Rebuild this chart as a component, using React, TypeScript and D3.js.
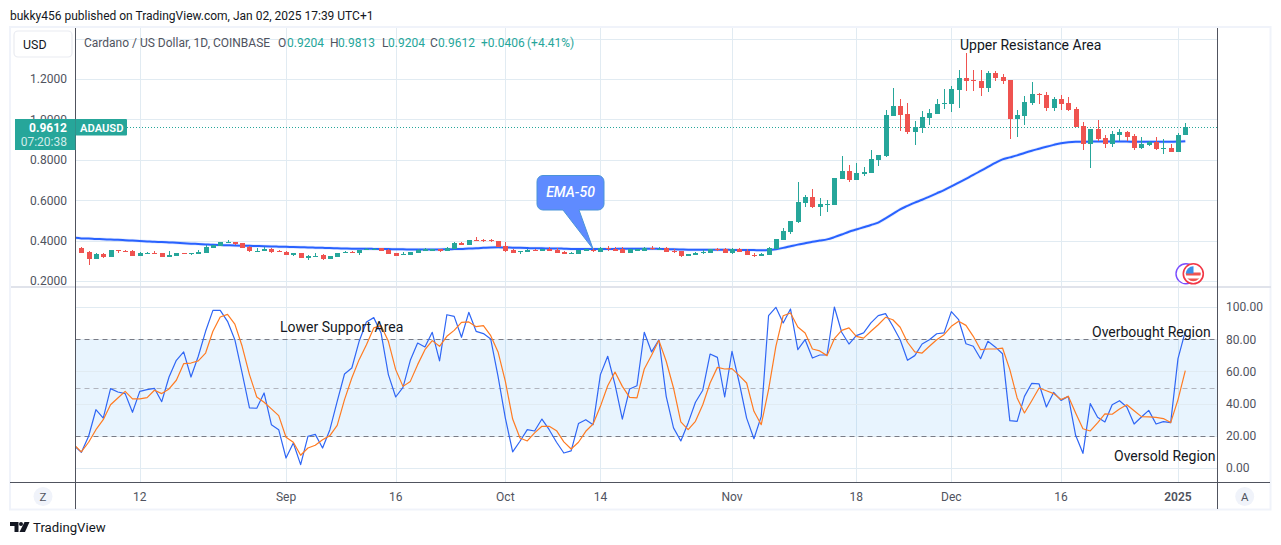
// App.tsx
import * as d3 from 'd3';
import React from 'react';

const startDate = new Date(Date.UTC(2024, 7, 3));
const endDate = new Date(Date.UTC(2025, 0, 3));

const opens = [
  0.365, 0.344, 0.309, 0.334, 0.321, 0.354, 0.349, 0.347, 0.324, 0.335,
  0.339, 0.339, 0.321, 0.324, 0.337, 0.335, 0.335, 0.339, 0.365, 0.375,
  0.39, 0.393, 0.388, 0.37, 0.345, 0.35, 0.358, 0.35, 0.345, 0.33,
  0.337, 0.316, 0.32, 0.327, 0.309, 0.321, 0.34, 0.345, 0.337, 0.355,
  0.357, 0.363, 0.354, 0.339, 0.329, 0.329, 0.339, 0.35, 0.35, 0.358,
  0.35, 0.358, 0.388, 0.378, 0.401, 0.403, 0.403, 0.398, 0.373, 0.354,
  0.345, 0.345, 0.354, 0.349, 0.358, 0.354, 0.344, 0.335, 0.334, 0.35,
  0.353, 0.344, 0.365, 0.36, 0.357, 0.339, 0.349, 0.349, 0.362, 0.355,
  0.362, 0.35, 0.349, 0.324, 0.33, 0.342, 0.339, 0.357, 0.357, 0.337,
  0.358, 0.35, 0.33, 0.324, 0.33, 0.357, 0.403, 0.443, 0.492, 0.588,
  0.616, 0.568, 0.578, 0.576, 0.705, 0.745, 0.7, 0.73, 0.735, 0.799,
  0.819, 1.017, 1.066, 1.027, 0.938, 0.957, 1.007, 1.027, 1.076, 1.076,
  1.145, 1.205, 1.195, 1.19, 1.155, 1.23, 1.21, 1.195, 1.002, 1.017,
  1.081, 1.127, 1.121, 1.056, 1.101, 1.081, 1.051, 0.967, 0.878, 0.952,
  0.908, 0.878, 0.923, 0.938, 0.918, 0.858, 0.873, 0.888, 0.855, 0.858,
  0.839, 0.9204,
];

const highs = [
  0.37, 0.347, 0.337, 0.339, 0.354, 0.355, 0.354, 0.354, 0.344, 0.344,
  0.347, 0.34, 0.349, 0.339, 0.338, 0.338, 0.352, 0.377, 0.379, 0.393,
  0.401, 0.394, 0.389, 0.375, 0.365, 0.37, 0.363, 0.354, 0.347, 0.338,
  0.338, 0.329, 0.339, 0.334, 0.326, 0.34, 0.349, 0.349, 0.354, 0.362,
  0.362, 0.364, 0.358, 0.34, 0.344, 0.344, 0.36, 0.363, 0.36, 0.359,
  0.368, 0.393, 0.393, 0.403, 0.418, 0.408, 0.406, 0.399, 0.393, 0.36,
  0.349, 0.36, 0.36, 0.358, 0.367, 0.363, 0.349, 0.344, 0.354, 0.36,
  0.362, 0.367, 0.373, 0.367, 0.367, 0.358, 0.358, 0.368, 0.373, 0.368,
  0.368, 0.358, 0.35, 0.334, 0.344, 0.353, 0.358, 0.363, 0.365, 0.365,
  0.365, 0.357, 0.337, 0.337, 0.367, 0.406, 0.461, 0.497, 0.69, 0.626,
  0.655, 0.611, 0.601, 0.711, 0.819, 0.774, 0.784, 0.764, 0.848, 0.825,
  1.046, 1.155, 1.101, 1.081, 0.992, 1.042, 1.051, 1.101, 1.15, 1.165,
  1.245, 1.329, 1.245, 1.245, 1.24, 1.24, 1.225, 1.196, 1.046, 1.116,
  1.185, 1.131, 1.136, 1.111, 1.121, 1.111, 1.061, 0.987, 0.953, 0.997,
  0.923, 0.943, 0.952, 0.943, 0.928, 0.913, 0.893, 0.913, 0.903, 0.878,
  0.933, 0.9813,
];

const lows = [
  0.337, 0.281, 0.309, 0.314, 0.319, 0.34, 0.344, 0.323, 0.323, 0.334,
  0.334, 0.319, 0.32, 0.323, 0.335, 0.329, 0.334, 0.338, 0.364, 0.374,
  0.389, 0.377, 0.364, 0.345, 0.344, 0.349, 0.339, 0.344, 0.328, 0.324,
  0.315, 0.304, 0.319, 0.304, 0.308, 0.32, 0.339, 0.339, 0.327, 0.354,
  0.356, 0.349, 0.332, 0.323, 0.328, 0.328, 0.338, 0.349, 0.349, 0.345,
  0.349, 0.357, 0.378, 0.377, 0.398, 0.393, 0.391, 0.368, 0.344, 0.337,
  0.334, 0.344, 0.347, 0.348, 0.347, 0.339, 0.334, 0.334, 0.333, 0.349,
  0.345, 0.343, 0.349, 0.347, 0.338, 0.338, 0.348, 0.348, 0.353, 0.353,
  0.342, 0.339, 0.317, 0.323, 0.329, 0.332, 0.338, 0.349, 0.338, 0.334,
  0.343, 0.329, 0.319, 0.322, 0.329, 0.356, 0.402, 0.431, 0.489, 0.568,
  0.563, 0.523, 0.543, 0.575, 0.704, 0.69, 0.699, 0.72, 0.734, 0.769,
  0.814, 1.016, 0.943, 0.928, 0.873, 0.933, 0.972, 1.026, 1.051, 1.037,
  1.056, 1.141, 1.141, 1.116, 1.136, 1.19, 1.175, 0.903, 0.913, 0.972,
  1.071, 1.076, 1.042, 1.042, 1.046, 1.042, 0.961, 0.848, 0.759, 0.893,
  0.858, 0.863, 0.893, 0.893, 0.848, 0.853, 0.868, 0.848, 0.829, 0.838,
  0.838, 0.9204,
];

const closes = [
  0.34, 0.309, 0.334, 0.319, 0.352, 0.35, 0.345, 0.324, 0.339, 0.339,
  0.335, 0.321, 0.329, 0.339, 0.335, 0.337, 0.342, 0.368, 0.378, 0.393,
  0.393, 0.385, 0.365, 0.35, 0.35, 0.358, 0.344, 0.345, 0.329, 0.337,
  0.316, 0.324, 0.324, 0.309, 0.324, 0.339, 0.345, 0.34, 0.354, 0.36,
  0.36, 0.35, 0.334, 0.324, 0.334, 0.344, 0.355, 0.357, 0.36, 0.35,
  0.363, 0.388, 0.378, 0.403, 0.398, 0.4, 0.398, 0.368, 0.347, 0.339,
  0.349, 0.354, 0.349, 0.358, 0.349, 0.34, 0.335, 0.339, 0.354, 0.358,
  0.349, 0.365, 0.357, 0.349, 0.339, 0.357, 0.357, 0.363, 0.357, 0.36,
  0.344, 0.345, 0.324, 0.334, 0.339, 0.345, 0.357, 0.352, 0.339, 0.357,
  0.344, 0.33, 0.324, 0.332, 0.363, 0.406, 0.446, 0.497, 0.591, 0.614,
  0.568, 0.581, 0.581, 0.71, 0.745, 0.7, 0.735, 0.74, 0.804, 0.824,
  1.022, 1.066, 1.022, 0.938, 0.962, 1.012, 1.032, 1.076, 1.081, 1.15,
  1.205, 1.19, 1.19, 1.155, 1.23, 1.205, 1.19, 1.002, 1.022, 1.086,
  1.126, 1.124, 1.056, 1.101, 1.076, 1.046, 0.962, 0.878, 0.952, 0.903,
  0.878, 0.928, 0.938, 0.913, 0.858, 0.878, 0.89, 0.853, 0.858, 0.839,
  0.923, 0.9612,
];

// starts one day before the first candle, at the pane's left edge
const ema50 = [
  0.414, 0.411, 0.41, 0.408, 0.407, 0.405, 0.404, 0.402, 0.4, 0.398,
  0.396, 0.394, 0.393, 0.391, 0.389, 0.387, 0.385, 0.383, 0.381, 0.379,
  0.378, 0.377, 0.376, 0.375, 0.374, 0.373, 0.372, 0.371, 0.37, 0.369,
  0.368, 0.367, 0.366, 0.365, 0.364, 0.363, 0.362, 0.361, 0.36, 0.36,
  0.36, 0.359, 0.358, 0.358, 0.357, 0.357, 0.356, 0.356, 0.356, 0.356,
  0.356, 0.357, 0.358, 0.359, 0.361, 0.362, 0.364, 0.366, 0.367, 0.366,
  0.365, 0.364, 0.363, 0.362, 0.362, 0.361, 0.361, 0.36, 0.359, 0.359,
  0.358, 0.358, 0.358, 0.358, 0.359, 0.36, 0.36, 0.36, 0.36, 0.36,
  0.359, 0.358, 0.357, 0.356, 0.355, 0.355, 0.355, 0.355, 0.355, 0.355,
  0.354, 0.354, 0.354, 0.353, 0.352, 0.353, 0.357, 0.364, 0.372, 0.38,
  0.387, 0.394, 0.4, 0.406, 0.417, 0.43, 0.444, 0.455, 0.466, 0.477,
  0.489, 0.51, 0.532, 0.555, 0.572, 0.588, 0.602, 0.618, 0.634, 0.65,
  0.668, 0.687, 0.706, 0.725, 0.745, 0.765, 0.785, 0.802, 0.812, 0.822,
  0.834, 0.845, 0.855, 0.865, 0.874, 0.882, 0.887, 0.889, 0.889, 0.89,
  0.89, 0.89, 0.89, 0.89, 0.89, 0.889, 0.889, 0.889, 0.889, 0.889,
  0.889, 0.89, 0.892,
];

const rsiBlue = [
  13.9, 9.7, 19.7, 36.2, 31.0, 49.3, 47.2, 46.2, 34.6, 47.6,
  48.7, 49.5, 41.2, 56.5, 66.9, 72.1, 56.5, 69.4, 84.9, 97.9,
  97.9, 91.1, 79.7, 59.0, 37.3, 37.1, 46.6, 26.9, 23.8, 6.2,
  15.5, 2.1, 19.7, 20.9, 12.4, 23.8, 41.4, 58.4, 62.1, 78.7,
  90.7, 93.4, 83.9, 58.0, 44.1, 50.1, 66.9, 77.6, 75.2, 84.3,
  66.5, 95.2, 94.2, 81.2, 96.7, 84.9, 83.5, 80.1, 56.9, 31.0,
  10.0, 16.6, 23.8, 23.0, 30.4, 23.8, 16.0, 9.3, 10.6, 27.6,
  30.0, 26.9, 58.0, 69.4, 51.8, 30.4, 49.1, 51.1, 84.3, 72.1,
  79.7, 44.5, 24.9, 16.8, 28.0, 40.8, 48.3, 70.8, 68.7, 44.1,
  72.5, 52.8, 31.0, 18.2, 32.1, 94.6, 99.8, 90.1, 98.8, 73.5,
  79.7, 68.3, 70.2, 70.2, 100, 84.3, 77.0, 82.2, 83.9, 90.1,
  94.6, 95.9, 88.0, 79.7, 66.9, 69.8, 77.0, 79.7, 83.4, 83.9,
  97.1, 92.1, 77.2, 75.6, 67.9, 78.7, 75.2, 71.0, 29.4, 29.0,
  44.5, 52.6, 52.2, 37.9, 47.0, 42.0, 44.5, 20.3, 9.1, 40.0,
  31.5, 28.6, 39.3, 41.8, 37.9, 27.3, 31.7, 35.8, 27.3, 28.8,
  28.2, 67.9, 84.9,
];

const rsiOrange = [
  14.5, 10.0, 16.0, 23.8, 30.0, 39.3, 43.5, 47.6, 42.9, 42.9,
  43.7, 48.3, 46.2, 49.1, 54.5, 64.8, 65.2, 66.5, 71.4, 84.9,
  93.8, 95.4, 89.4, 75.6, 58.0, 44.1, 40.8, 36.7, 32.5, 19.1,
  16.0, 7.9, 12.4, 14.1, 17.6, 20.1, 26.5, 42.5, 55.9, 67.3,
  76.6, 87.0, 88.4, 78.7, 61.1, 50.7, 53.8, 64.2, 73.5, 79.1,
  75.6, 81.8, 85.5, 90.5, 90.7, 87.8, 88.4, 82.2, 72.1, 53.8,
  30.4, 18.6, 16.8, 21.8, 25.9, 25.9, 23.2, 16.2, 11.8, 16.0,
  22.8, 27.3, 38.3, 51.1, 59.6, 50.7, 43.9, 43.5, 61.5, 70.0,
  79.3, 66.3, 49.7, 28.6, 23.8, 29.0, 39.3, 52.8, 62.5, 61.5,
  61.7, 57.4, 52.8, 35.2, 26.9, 48.7, 75.6, 94.6, 96.3, 87.6,
  83.9, 73.9, 72.7, 69.8, 80.3, 85.5, 87.0, 81.8, 80.7, 84.9,
  89.0, 93.6, 92.1, 87.4, 78.1, 72.1, 71.4, 75.6, 79.7, 82.8,
  88.0, 91.1, 88.6, 81.8, 73.5, 73.9, 73.9, 74.5, 61.1, 43.5,
  34.2, 41.8, 49.7, 48.0, 46.2, 42.5, 44.5, 34.2, 24.4, 23.0,
  28.0, 33.6, 33.4, 36.7, 39.3, 35.6, 31.9, 31.7, 31.5, 30.7,
  28.2, 42.5, 60.5,
];

const priceTicks = [0.2, 0.4, 0.6, 0.8, 1.0, 1.2];
const priceGrid = [0.2, 0.4, 0.6, 0.8, 1.0, 1.2, 1.4];
const rsiTicks = [0, 20, 40, 60, 80, 100];

const timeLabels = ['12', 'Sep', '16', 'Oct', '14', 'Nov', '18', 'Dec', '16', '2025'];
const timeDates = [
  Date.UTC(2024, 7, 12), Date.UTC(2024, 8, 1), Date.UTC(2024, 8, 16), Date.UTC(2024, 9, 1),
  Date.UTC(2024, 9, 14), Date.UTC(2024, 10, 1), Date.UTC(2024, 10, 18), Date.UTC(2024, 11, 1),
  Date.UTC(2024, 11, 16), Date.UTC(2025, 0, 1),
].map(d => new Date(d));

const lastPrice = 0.9612;
const calloutTipPrice = 0.358;
const calloutTipDate = new Date(Date.UTC(2024, 9, 13));

const UP = '#26a69a';
const DOWN = '#ef5350';
const GRID = '#e1ebf2';
const AXIS = '#50535e';
const FONT = 'Roboto, sans-serif';

export default function App() {
  const left = 75.5;
  const right = 1217.5;
  const priceTop = 28;
  const priceBottom = 287;
  const rsiBottom = 482.5;

  const days = d3.utcDay.range(startDate, endDate);
  const candleDays = days.slice(1);

  const x = d3
    .scaleUtc()
    .domain([candleDays[0], candleDays[candleDays.length - 1]])
    .range([81.3, 1185.3]);
  const y = d3.scaleLinear().domain([0.2, 1.4]).range([281, 38.6]);
  const r = d3.scaleLinear().domain([0, 100]).range([468, 307]);

  const emaLine = d3
    .line<number>()
    .x((_, i) => x(days[i]))
    .y(d => y(d))
    .curve(d3.curveMonotoneX);
  const rsiLine = d3
    .line<number>()
    .x((_, i) => x(days[i]))
    .y(d => r(d));

  const px = (v: number) => Math.round(v) + 0.5;
  const labelY = y(lastPrice);
  const tipX = x(calloutTipDate);
  const tipY = y(calloutTipPrice);

  return (
    <svg
      width={1281}
      height={545}
      style={{ position: 'absolute', left: 0, top: 0, display: 'block', fontFamily: FONT }}
    >
      <defs>
        <clipPath id="pricePane">
          <rect x={left} y={priceTop} width={right - left} height={priceBottom - priceTop} />
        </clipPath>
        <clipPath id="rsiPane">
          <rect x={left} y={priceBottom} width={right - left} height={rsiBottom - priceBottom} />
        </clipPath>
        <clipPath id="flagClip">
          <circle cx={1193.3} cy={273.8} r={7.5} />
        </clipPath>
      </defs>

      <text x={10} y={19.5} fontSize={12} fill="#131722">
        bukky456 published on TradingView.com, Jan 02, 2025 17:39 UTC+1
      </text>

      <rect x={10} y={27} width={1260.5} height={482.5} fill="#fff" stroke="#f0f3fa" strokeWidth={2} />

      {/* grid */}
      {timeDates.map(d => (
        <line key={+d} x1={px(x(d))} x2={px(x(d))} y1={priceTop} y2={rsiBottom} stroke={GRID} />
      ))}
      {priceGrid.map(t => (
        <line key={t} x1={left} x2={right} y1={px(y(t))} y2={px(y(t))} stroke={GRID} />
      ))}

      {/* rsi band and levels */}
      <rect x={left} y={r(80)} width={right - left} height={r(20) - r(80)} fill="#2196f3" fillOpacity={0.1} />
      {rsiTicks.map(t => (
        <line key={t} x1={left} x2={right} y1={px(r(t))} y2={px(r(t))} stroke={GRID} />
      ))}
      {[80, 20].map(t => (
        <line key={t} x1={left} x2={right} y1={px(r(t))} y2={px(r(t))} stroke="#787b86" strokeDasharray="5 4" />
      ))}
      <line x1={left} x2={right} y1={px(r(50))} y2={px(r(50))} stroke="#b2b5be" strokeDasharray="5 4" />

      {/* price pane */}
      <g clipPath="url(#pricePane)">
        <line
          x1={127}
          x2={right}
          y1={px(labelY)}
          y2={px(labelY)}
          stroke={UP}
          strokeDasharray="1 2"
        />
        <path d={emaLine(ema50) ?? ''} fill="none" stroke="#2962ff" strokeOpacity={0.12} strokeWidth={3.5} />
        <path d={emaLine(ema50) ?? ''} fill="none" stroke="#2962ff" strokeWidth={2} />
        {opens.map((o, i) => {
          const c = closes[i];
          const cx = x(candleDays[i]);
          const color = c >= o ? UP : DOWN;
          const top = y(Math.max(o, c));
          const h = Math.max(1, y(Math.min(o, c)) - top);
          return (
            <g key={i} fill={color} shapeRendering="crispEdges">
              <rect x={Math.round(cx)} width={1} y={y(highs[i])} height={y(lows[i]) - y(highs[i])} />
              <rect x={Math.round(cx) - 2} width={5} y={top} height={h} />
            </g>
          );
        })}
      </g>

      {/* rsi pane */}
      <g clipPath="url(#rsiPane)" fill="none" strokeWidth={1.2} strokeLinejoin="round">
        <path d={rsiLine(rsiBlue) ?? ''} stroke="#2f66f5" />
        <path d={rsiLine(rsiOrange) ?? ''} stroke="#ff7b22" />
      </g>

      {/* pane frame */}
      <line x1={11} x2={1271} y1={287} y2={287} stroke="#e0e3eb" strokeWidth={2} />
      <line x1={10} x2={1270} y1={rsiBottom} y2={rsiBottom} stroke={AXIS} />
      <line x1={left} x2={left} y1={priceTop} y2={509} stroke={AXIS} />
      <line x1={right} x2={right} y1={priceTop} y2={509} stroke={AXIS} />

      {/* axes */}
      <g fontSize={12} fill={AXIS}>
        {priceTicks.map(t => (
          <text key={t} x={67} y={y(t)} dy="0.36em" textAnchor="end">
            {t.toFixed(4)}
          </text>
        ))}
        {rsiTicks.map(t => (
          <text key={t} x={1226} y={r(t)} dy="0.36em">
            {t.toFixed(2)}
          </text>
        ))}
        {timeDates.map((d, i) => (
          <text
            key={+d}
            x={x(d)}
            y={496.5}
            dy="0.36em"
            textAnchor="middle"
            fontWeight={timeLabels[i] === '2025' ? 600 : 400}
          >
            {timeLabels[i]}
          </text>
        ))}
      </g>

      {/* usd button */}
      <rect x={14} y={31} width={58} height={26} rx={4} fill="#fff" stroke="#e9ebf1" strokeWidth={1.2} />
      <text x={23} y={48.5} fontSize={12.4} fill="#131722">USD</text>

      {/* legend */}
      <g fontSize={12}>
        <text x={84} y={46.5} fill={AXIS}>Cardano / US Dollar, 1D, COINBASE</text>
        <text x={278} y={46.5} fill={AXIS}>O</text>
        <text x={287} y={46.5} fill={UP}>0.9204</text>
        <text x={330} y={46.5} fill={AXIS}>H</text>
        <text x={338} y={46.5} fill={UP}>0.9813</text>
        <text x={382} y={46.5} fill={AXIS}>L</text>
        <text x={388} y={46.5} fill={UP}>0.9204</text>
        <text x={430} y={46.5} fill={AXIS}>C</text>
        <text x={438} y={46.5} fill={UP}>0.9612</text>
        <text x={481} y={46.5} fill={UP}>+0.0406</text>
        <text x={527} y={46.5} fill={UP}>(+4.41%)</text>
      </g>

      {/* last price label */}
      <rect x={15} y={119} width={60.5} height={31} fill={UP} />
      <rect x={75.5} y={119} width={51.5} height={16.5} rx={1} fill={UP} />
      <text x={67} y={labelY + 4.5} fontSize={12} fontWeight={700} fill="#fff" textAnchor="end">0.9612</text>
      <text x={67} y={146} fontSize={12} fill="#d0ece9" textAnchor="end">07:20:38</text>
      <text x={80} y={labelY + 4.5} fontSize={11.2} fontWeight={600} fill="#fff">ADAUSD</text>

      {/* annotations */}
      <g fontSize={14} fill="#131722">
        <text x={960} y={50}>Upper Resistance Area</text>
        <text x={280} y={332}>Lower Support Area</text>
        <text x={1092} y={337}>Overbought Region</text>
        <text x={1114} y={461}>Oversold Region</text>
      </g>

      {/* callout */}
      <path
        d={`M543 175.5H598a6 6 0 0 1 6 6V204a6 6 0 0 1 -6 6H579L${tipX} ${tipY}L563 210H543a6 6 0 0 1 -6 -6V181.5a6 6 0 0 1 6 -6Z`}
        fill="#5f8bff"
        stroke="#4a94d8"
        strokeWidth={1}
      />
      <text x={570.5} y={197} fontSize={14} fontStyle="italic" fontWeight={500} fill="#fff" textAnchor="middle">
        EMA-50
      </text>

      {/* currency badge */}
      <circle cx={1186} cy={273.8} r={10} fill="#fff" stroke="#7a4dff" strokeWidth={1.4} />
      <circle cx={1193.3} cy={273.8} r={10} fill="#fff" stroke="#f23645" strokeWidth={1.6} />
      <g clipPath="url(#flagClip)">
        <rect x={1185} y={266} width={17} height={16} fill="#fff" />
        <rect x={1185} y={272.5} width={17} height={3} fill="#ef5350" />
        <rect x={1185} y={278.5} width={17} height={4} fill="#ef5350" />
        <rect x={1185} y={266} width={8.5} height={7.5} fill="#3b8fe8" />
      </g>

      {/* bottom buttons */}
      <circle cx={43} cy={496.5} r={9.5} fill="#f0f3fa" />
      <text x={43} y={501} fontSize={11.5} fill={AXIS} textAnchor="middle">Z</text>
      <circle cx={1244.7} cy={496.5} r={9.5} fill="#f0f3fa" />
      <text x={1244.7} y={501} fontSize={11.5} fill={AXIS} textAnchor="middle">A</text>

      {/* footer */}
      <path d="M10 522H18.5V532H14.5V526H10Z" fill="#131722" />
      <circle cx={21} cy={524} r={2} fill="#131722" />
      <path d="M24.5 522H29.5L25 532H19.5Z" fill="#131722" />
      <text x={33} y={532} fontSize={13.2} fill="#131722">TradingView</text>
    </svg>
  );
}
